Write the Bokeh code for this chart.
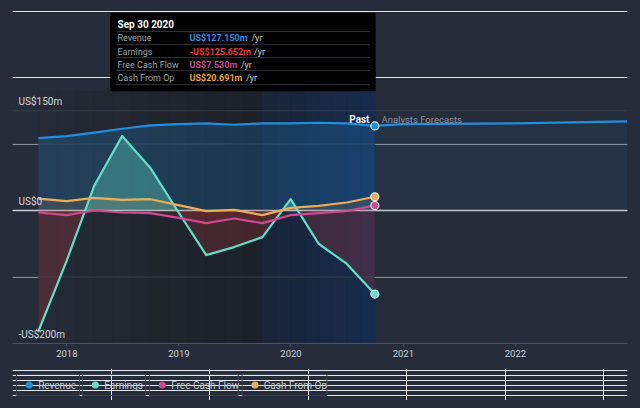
import numpy as np
import pandas as pd
from bokeh.plotting import figure
from bokeh.layouts import column
from bokeh.models import Range1d, FixedTicker, DatetimeTickFormatter
from bokeh.core.properties import value
from bokeh.embed import file_html
from bokeh.resources import INLINE

# ---------------- data (US$ m, trailing twelve months) ----------------
quarter_dates = ["2017-09-30", "2017-12-31", "2018-03-31", "2018-06-30", "2018-09-30",
                 "2018-12-31", "2019-03-31", "2019-06-30", "2019-09-30", "2019-12-31",
                 "2020-03-31", "2020-06-30", "2020-09-30"]
revenue = [109, 112, 117, 123, 128, 130, 131, 129, 131, 131, 132, 131, 127.150]
earnings = [-182, -76, 37, 112, 64, -3, -67, -55, -40, 17, -50, -80, -125.652]
free_cash_flow = [-3, -7, 0, -3, -4, -11, -19, -12, -19, -7, -4, -1, 7.530]
cash_from_op = [18, 14, 19, 16, 17, 8, -1, 1, -7, 4, 7, 12, 20.691]
forecast_dates = ["2020-09-30", "2020-12-31", "2021-12-31", "2022-12-31"]
forecast_revenue = [127.150, 130, 131, 134]

series_names = ["Revenue", "Earnings", "Free Cash Flow", "Cash From Op"]
year_ticks = [2018, 2019, 2020, 2021, 2022]
y_label_values = [150, 0, -200]
y_label_texts = ["US$150m", "US$0", "-US$200m"]
grid_values = [150, 100, -100]
tooltip_date = "Sep 30 2020"
past_label = "Past"
forecast_label = "Analysts Forecasts"

# ---------------- style ----------------
FONT = "Roboto"
BG = "#262d3a"
COLORS = ["#1f8fe0", "#5fe0c9", "#cd4a90", "#ebad55"]
NEG = "#d23c3c"


def ms(d):
    return pd.Timestamp(d).value / 1e6


X0, X1 = ms("2017-07-08"), ms("2023-01-01")
Y0, Y1 = -200.0, 303.8
FL, FR, FT, FB = 12, 627, 8, 343          # frame edges on the page (px)
UPP = (Y1 - Y0) / (FB - FT)               # data units per pixel (y)


def vx(px):
    return X0 + (X1 - X0) * (px - FL) / (FR - FL)


def vy(py):
    return Y1 - UPP * (py - FT)


p = figure(width=624, height=360, x_axis_type="datetime",
           x_range=Range1d(X0, X1), y_range=Range1d(Y0, Y1), tools="",
           y_axis_location=None, output_backend="svg", toolbar_location=None,
           min_border_left=4, min_border_right=5, min_border_top=0, min_border_bottom=25)
p.background_fill_color = BG
p.border_fill_color = BG
p.outline_line_color = None
p.xgrid.visible = False

qx = np.array([ms(d) for d in quarter_dates])
fx = np.array([ms(d) for d in forecast_dates])


def hexcol(c):
    return "#%02x%02x%02x" % tuple(int(round(v)) for v in c)


# ---------------- backgrounds (past / last-year highlight) ----------------
band_top = vy(90.5)
past_end = ms("2019-09-30")
bl, br, bc = [], [], []
for start, end, n, c0, c1 in [(qx[0], past_end, 12, (37, 43, 54), (28, 32, 40)),
                              (past_end, qx[-1], 8, (25, 37, 56), (23, 44, 76))]:
    edges = np.linspace(start, end, n + 1)
    c0, c1 = np.array(c0), np.array(c1)
    for i in range(n):
        bl.append(edges[i])
        br.append(edges[i + 1])
        bc.append(hexcol(c0 + (c1 - c0) * i / (n - 1)))
p.quad(left=bl, right=br, top=band_top, bottom=Y0, fill_color=bc,
       line_color=bc, line_width=0.5)

# gridlines and zero line
p.segment(x0=[X0] * len(grid_values), x1=[X1] * len(grid_values),
          y0=grid_values, y1=grid_values, line_color="#363e4b", line_width=1)
p.segment(x0=[X0], x1=[X1], y0=[0], y1=[0], line_color="#c9ccd1", line_width=1.5)


def split_zero(xs, ys):
    ox, oy = [xs[0]], [float(ys[0])]
    for i in range(1, len(xs)):
        a, b = ys[i - 1], ys[i]
        if a * b < 0:
            t = a / (a - b)
            ox.append(xs[i - 1] + t * (xs[i] - xs[i - 1]))
            oy.append(0.0)
        ox.append(xs[i])
        oy.append(float(b))
    return np.array(ox), np.array(oy)


# ---------------- area fills ----------------
p.varea(x=qx, y1=0, y2=revenue, fill_color=COLORS[0], fill_alpha=0.22)
p.varea(x=fx, y1=0, y2=forecast_revenue, fill_color=COLORS[0], fill_alpha=0.07)
for ys, col, pa, na in [(earnings, COLORS[1], 0.35, 0.22),
                        (free_cash_flow, COLORS[2], 0.12, 0.12),
                        (cash_from_op, COLORS[3], 0.12, 0.12)]:
    ax, ay = split_zero(qx, ys)
    p.varea(x=ax, y1=0, y2=np.maximum(ay, 0), fill_color=col, fill_alpha=pa)
    p.varea(x=ax, y1=np.minimum(ay, 0), y2=0, fill_color=NEG, fill_alpha=na)

# ---------------- lines ----------------
p.line(qx, revenue, line_color=COLORS[0], line_width=2.2, line_join="round")
p.line(fx, forecast_revenue, line_color=COLORS[0], line_width=2.2, line_join="round")
p.line(qx, earnings, line_color=COLORS[1], line_width=2.2, line_join="round")
p.line(qx, free_cash_flow, line_color=COLORS[2], line_width=2.2, line_join="round")
p.line(qx, cash_from_op, line_color=COLORS[3], line_width=2.2, line_join="round")

last = [revenue[-1], earnings[-1], free_cash_flow[-1], cash_from_op[-1]]
p.scatter(x=[qx[-1]] * 4, y=last, size=8, fill_color=COLORS, line_color="#e6ecf3", line_width=1.2)

# ---------------- axis ----------------
p.xaxis.ticker = FixedTicker(ticks=[ms(f"{y}-01-01") for y in year_ticks])
p.xaxis.formatter = DatetimeTickFormatter(years="%Y", months="%Y", days="%Y", hours="%Y")
p.xaxis.axis_line_color = "#4a5160"
p.xaxis.major_tick_line_color = "#4a5160"
p.xaxis.minor_tick_line_color = None
p.xaxis.major_tick_in = 0
p.xaxis.major_tick_out = 3
p.xaxis.major_label_standoff = 3
p.xaxis.major_label_text_color = "#c9cdd3"
p.xaxis.major_label_text_font = FONT
p.xaxis.major_label_text_font_size = "9.5px"


def txt(x, y, t, size, color, align="left", style="normal"):
    p.text(x=x, y=y, text=t, text_align=align, text_baseline="middle",
           text_font=value(FONT), text_font_size=size, text_font_style=style,
           text_color=color)


# y-axis value labels
txt([vx(18)] * len(y_label_values), [v + 9.5 * UPP for v in y_label_values],
    y_label_texts, "10px", "#d3d6db")

txt([vx(369)], [vy(119)], [past_label], "10px", "#e8eaed", align="right", style="bold")
txt([vx(381)], [vy(119)], [forecast_label], "9.5px", "#8b929c")

# ---------------- tooltip ----------------
p.quad(left=[vx(110)], right=[vx(375)], top=[vy(12.5)], bottom=[vy(90.5)],
       fill_color="#000000", line_color="#000000", line_width=0.5)
seps = [31, 44, 57, 70, 84]
p.segment(x0=[vx(116)] * len(seps), x1=[vx(369)] * len(seps),
          y0=[vy(s) for s in seps], y1=[vy(s) for s in seps],
          line_color="#2b3038", line_width=1)
txt([vx(117)], [vy(24)], [tooltip_date], "10px", "#ffffff", style="bold")

value_colors = ["#2a8fe0", "#e8383d", "#cf4a90", "#e8a63f"]
rows_y = [37.5, 51, 64, 77.5]
TIP_SIZE = 9
char_em = {".": 0.27, "-": 0.30, "U": 0.66, "S": 0.62, "$": 0.585, "m": 0.90}


def est_w(s):
    return sum(char_em.get(ch, 0.585) for ch in s) * TIP_SIZE


value_texts = [("-" if v < 0 else "") + f"US${abs(v):,.3f}m" for v in last]
ry = [vy(r) for r in rows_y]
txt([vx(117)] * 4, ry, series_names, f"{TIP_SIZE}px", "#9fa4ab")
p.text(x=[vx(189)] * 4, y=ry, text=value_texts, text_baseline="middle",
       text_font=value(FONT), text_font_size=f"{TIP_SIZE}px", text_font_style="bold",
       text_color=value_colors)
txt([vx(189 + est_w(t) + 3) for t in value_texts], ry, ["/yr"] * 4, f"{TIP_SIZE}px", "#c9cdd2")

# ---------------- legend strip ----------------
LH = 32
lg = figure(width=624, height=LH, x_range=Range1d(0, 624), y_range=Range1d(0, LH), tools="",
            x_axis_location=None, y_axis_location=None, output_backend="svg",
            toolbar_location=None, min_border=0)
lg.background_fill_color = BG
lg.border_fill_color = BG
lg.outline_line_color = None
box_left = [4, 71, 139, 233]
box_right = [68, 135, 229, 319]
lg.quad(left=box_left, right=box_right, top=[LH - 6] * 4, bottom=[LH - 27] * 4,
        fill_color=None, line_color="#3a4250", line_width=1)
lg.scatter(x=[l + 13 for l in box_left], y=[LH - 16.5] * 4, size=7, fill_color=COLORS,
           line_color=None)
lg.text(x=[l + 22 for l in box_left], y=[LH - 16.5] * 4, text=series_names,
        text_baseline="middle", text_font=value(FONT), text_font_size="10px",
        text_color="#c3c8cf")

layout = column(p, lg, spacing=0)
html = file_html(layout, INLINE)
html = html.replace("<head>",
                    "<head>\n<style>html { background: #262d3a; } "
                    "body { margin: 8px !important; background: #262d3a; }</style>", 1)
open("out.html", "w").write(html)
